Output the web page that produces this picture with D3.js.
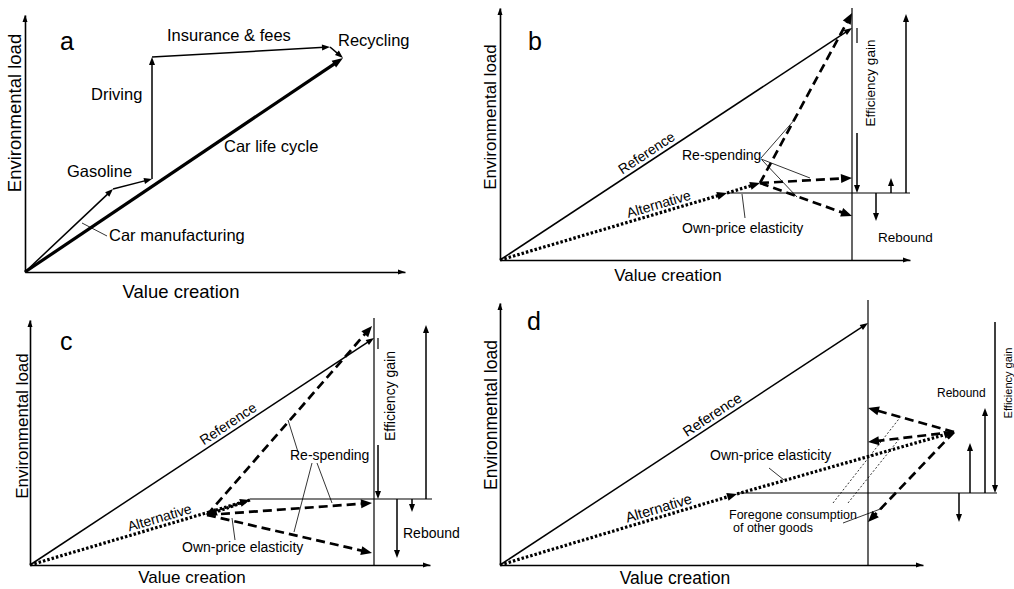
<!DOCTYPE html>
<html>
<head>
<meta charset="utf-8">
<script src="https://cdn.jsdelivr.net/npm/d3@7"></script>
<style>
body { margin: 0; background: #fff; }
svg { display: block; font-family: "Liberation Sans", Arial, sans-serif; }
</style>
</head>
<body>
<svg id="chart" width="1014" height="589"></svg>
<script>
// values are read off the picture, in units of the panel's own axes
// panel a: car life cycle, stage by stage
var aStages = ["Car manufacturing", "Gasoline", "Driving", "Insurance & fees", "Recycling"];
var aStagePoints = [[0, 0], [88, 83], [127, 93], [127, 215], [305, 225], [318, 214]];
var aLifeCycle = [[0, 0], [318, 214]];

// panel b
var bReference = [[0, 0], [352, 232]];
var bAlternative = [[0, 0], [227, 67]];
var bOwnPrice = [[227, 67], [260, 77]];
var bRespending = [[[260, 77], [352, 247]], [[260, 77], [352, 82]], [[260, 77], [352, 44]]];
var bLevel = 67, bFrontier = 352;
var bMeasures = [[357, 232, 67], [376, 67, 39], [391, 67, 82], [406, 67, 246]]; // x, from, to

// panel c
var cReference = [[0, 0], [344, 227]];
var cAlternative = [[0, 0], [220, 65]];
var cOwnPrice = [[220, 65], [177, 50]];
var cRespending = [[[177, 50], [342, 239]], [[177, 50], [342, 62]], [[177, 50], [342, 12]]];
var cLevel = 66, cFrontier = 344;
var cMeasures = [[348, 227, 66], [367, 66, 7], [382, 66, 53], [396, 66, 240]];

// panel d
var dReference = [[0, 0], [368, 242]];
var dAlternative = [[0, 0], [237, 71]];
var dOwnPrice = [[237, 71], [454, 133]];
var dForegone = [[[454, 133], [368, 157]], [[454, 133], [368, 123]], [[454, 133], [368, 43]]];
var dForegoneGuides = [[[333, 62], [402, 150]], [[348, 62], [400, 127]]];
var dLevel = 72, dFrontier = 368;
var dMeasures = [[459, 72, 43], [470, 72, 122], [485, 72, 157], [495, 243, 72]];

var panels = {
  a: { ox: 25, oy: 272, w: 380, h: 257 },
  b: { ox: 500, oy: 260, w: 410, h: 252 },
  c: { ox: 30, oy: 565, w: 400, h: 245 },
  d: { ox: 500, oy: 565, w: 423, h: 262 }
};

var styles = {
  solid: { w: 1.5, dash: null, L: 8, W: 6 },
  thick: { w: 3.2, dash: null, L: 11, W: 8 },
  dotted: { w: 3.2, dash: "2.5,2", L: 10, W: 8 },
  dashed: { w: 2.7, dash: "9,5", L: 11, W: 9 },
  frame: { w: 1.2, dash: null, L: 0, W: 0 },
  leader: { w: 0.8, dash: null, L: 0, W: 0 },
  guide: { w: 0.8, dash: "2,2", L: 0, W: 0 }
};

var svg = d3.select("#chart");

function scales(p) {
  return {
    x: d3.scaleLinear().domain([0, p.w]).range([p.ox, p.ox + p.w]),
    y: d3.scaleLinear().domain([0, p.h]).range([p.oy, p.oy - p.h])
  };
}

function head(g, x0, y0, x1, y1, L, W) {
  var dx = x1 - x0, dy = y1 - y0, len = Math.sqrt(dx * dx + dy * dy);
  var ux = dx / len, uy = dy / len;
  var bx = x1 - ux * L, by = y1 - uy * L;
  g.append("path")
    .attr("d", "M" + x1 + "," + y1 + "L" + (bx - uy * W / 2) + "," + (by + ux * W / 2) +
      "L" + (bx + uy * W / 2) + "," + (by - ux * W / 2) + "Z")
    .attr("fill", "#000");
}

function arrow(g, S, p0, p1, style, noHead) {
  var s = styles[style];
  var x0 = S.x(p0[0]), y0 = S.y(p0[1]), x1 = S.x(p1[0]), y1 = S.y(p1[1]);
  var len = Math.hypot(x1 - x0, y1 - y0);
  var k = (noHead || !s.L) ? 0 : s.L * 0.7;
  g.append("line")
    .attr("x1", x0).attr("y1", y0)
    .attr("x2", x1 - (x1 - x0) / len * k).attr("y2", y1 - (y1 - y0) / len * k)
    .attr("stroke", "#000").attr("stroke-width", s.w)
    .attr("stroke-dasharray", s.dash);
  if (!noHead && s.L) head(g, x0, y0, x1, y1, s.L, s.W);
}

function text(g, S, txt, pos, size, opts) {
  opts = opts || {};
  var t = g.append("text")
    .attr("x", S.x(pos[0])).attr("y", S.y(pos[1]))
    .attr("font-size", size)
    .attr("text-anchor", opts.anchor || "start")
    .text(txt);
  if (opts.rotate) t.attr("transform", "rotate(" + opts.rotate + "," + S.x(pos[0]) + "," + S.y(pos[1]) + ")");
  return t;
}

// label sitting along a line, t = fraction along it
function lineLabel(g, S, seg, t, txt, size) {
  var x0 = S.x(seg[0][0]), y0 = S.y(seg[0][1]), x1 = S.x(seg[1][0]), y1 = S.y(seg[1][1]);
  var ang = Math.atan2(y1 - y0, x1 - x0);
  var px = x0 + (x1 - x0) * t + Math.sin(ang) * 4, py = y0 + (y1 - y0) * t - Math.cos(ang) * 4;
  g.append("text").attr("x", px).attr("y", py)
    .attr("font-size", size).attr("text-anchor", "middle")
    .attr("transform", "rotate(" + (ang * 180 / Math.PI) + "," + px + "," + py + ")")
    .text(txt);
}

function axes(g, S, p, titles) {
  g.append("g").attr("transform", "translate(0," + p.oy + ")")
    .call(d3.axisBottom(S.x).tickValues([]).tickSizeOuter(0))
    .select(".domain").attr("stroke-width", 1.6);
  g.append("g").attr("transform", "translate(" + p.ox + ",0)")
    .call(d3.axisLeft(S.y).tickValues([]).tickSizeOuter(0))
    .select(".domain").attr("stroke-width", 1.6);
  head(g, p.ox, p.oy, p.ox + p.w, p.oy, 7, 5);
  head(g, p.ox, p.oy, p.ox, p.oy - p.h, 7, 5);
  g.append("text").attr("x", titles.vx).attr("y", titles.vy)
    .attr("font-size", titles.size).attr("text-anchor", "middle")
    .text("Value creation");
  g.append("text").attr("font-size", titles.size).attr("text-anchor", "middle")
    .attr("transform", "translate(" + titles.ex + "," + titles.ey + ") rotate(-90)")
    .text("Environmental load");
}

function measures(g, S, list, gap) {
  list.forEach(function (m, i) {
    if (i === 0 && gap) {
      // line is broken behind the "Efficiency gain" label
      arrow(g, S, [m[0], m[1]], [m[0], gap[0]], "frame", true);
      arrow(g, S, [m[0], gap[1]], [m[0], m[2]], "solid");
    } else {
      arrow(g, S, [m[0], m[1]], [m[0], m[2]], "solid");
    }
  });
}

// ---------- panel a ----------
(function () {
  var p = panels.a, S = scales(p), g = svg.append("g");
  axes(g, S, p, { vx: 181, vy: 298, ex: 21, ey: 113, size: 18.5 });
  arrow(g, S, aLifeCycle[0], aLifeCycle[1], "thick");
  for (var i = 0; i < aStages.length; i++) {
    arrow(g, S, aStagePoints[i], aStagePoints[i + 1], "solid");
  }
  text(g, S, "a", [35, 222], 25);
  text(g, S, "Insurance & fees", [142, 231], 16.5);
  text(g, S, "Recycling", [313, 226], 16.5);
  text(g, S, "Driving", [66, 172], 16.5);
  text(g, S, "Gasoline", [42, 95], 16.5);
  text(g, S, "Car life cycle", [199, 120], 16.5);
  text(g, S, "Car manufacturing", [84, 31], 16.5);
  arrow(g, S, [57, 49], [82, 36], "leader");
})();

// ---------- panel b ----------
(function () {
  var p = panels.b, S = scales(p), g = svg.append("g");
  axes(g, S, p, { vx: 668, vy: 281, ex: 496, ey: 117, size: 17 });
  arrow(g, S, [bFrontier, 0], [bFrontier, p.h], "frame");
  arrow(g, S, [bAlternative[1][0], bLevel], [p.w, bLevel], "frame");
  arrow(g, S, bReference[0], bReference[1], "solid");
  arrow(g, S, bAlternative[0], bAlternative[1], "dotted");
  arrow(g, S, bOwnPrice[0], bOwnPrice[1], "dotted");
  bRespending.forEach(function (s) { arrow(g, S, s[0], s[1], "dashed"); });
  measures(g, S, bMeasures, [217, 127]);
  text(g, S, "b", [28, 210], 25);
  lineLabel(g, S, bReference, 0.43, "Reference", 14);
  lineLabel(g, S, bAlternative, 0.71, "Alternative", 14);
  text(g, S, "Re-spending", [182, 100], 14);
  text(g, S, "Own-price elasticity", [182, 27], 14);
  text(g, S, "Rebound", [378, 18], 13.5);
  text(g, S, "Efficiency gain", [375, 177], 13.5, { anchor: "middle", rotate: -90 });
  arrow(g, S, [261, 102], [296, 142], "leader");
  arrow(g, S, [261, 101], [310, 82], "leader");
  arrow(g, S, [262, 100], [297, 63], "leader");
  arrow(g, S, [245, 42], [242, 66], "leader");
})();

// ---------- panel c ----------
(function () {
  var p = panels.c, S = scales(p), g = svg.append("g");
  axes(g, S, p, { vx: 192, vy: 583, ex: 28, ey: 426, size: 17 });
  arrow(g, S, [cFrontier, 0], [cFrontier, 247], "frame");
  arrow(g, S, [cAlternative[1][0], cLevel], [402, cLevel], "frame");
  arrow(g, S, cReference[0], cReference[1], "solid");
  arrow(g, S, cAlternative[0], cAlternative[1], "dotted");
  arrow(g, S, cOwnPrice[0], cOwnPrice[1], "dotted");
  cRespending.forEach(function (s) { arrow(g, S, s[0], s[1], "dashed"); });
  measures(g, S, cMeasures, [216, 120]);
  text(g, S, "c", [30, 215], 25);
  lineLabel(g, S, cReference, 0.59, "Reference", 14);
  lineLabel(g, S, cAlternative, 0.6, "Alternative", 14);
  text(g, S, "Re-spending", [260, 105], 14);
  text(g, S, "Own-price elasticity", [152, 13], 14);
  text(g, S, "Rebound", [373, 27], 14);
  text(g, S, "Efficiency gain", [365, 169], 14, { anchor: "middle", rotate: -90 });
  arrow(g, S, [268, 113], [258, 145], "leader");
  arrow(g, S, [282, 102], [264, 33], "leader");
  arrow(g, S, [287, 102], [302, 62], "leader");
  arrow(g, S, [205, 25], [202, 47], "leader");
})();

// ---------- panel d ----------
(function () {
  var p = panels.d, S = scales(p), g = svg.append("g");
  axes(g, S, p, { vx: 675, vy: 584, ex: 497, ey: 415, size: 17.5 });
  arrow(g, S, [dFrontier, 0], [dFrontier, 265], "frame");
  arrow(g, S, [dAlternative[1][0], dLevel], [497, dLevel], "frame");
  arrow(g, S, dReference[0], dReference[1], "solid");
  arrow(g, S, dAlternative[0], dAlternative[1], "dotted");
  arrow(g, S, dOwnPrice[0], dOwnPrice[1], "dotted");
  dForegone.forEach(function (s) { arrow(g, S, s[0], s[1], "dashed"); });
  dForegoneGuides.forEach(function (s) { arrow(g, S, s[0], s[1], "guide", true); });
  measures(g, S, dMeasures);
  text(g, S, "d", [27, 235], 25);
  lineLabel(g, S, dReference, 0.59, "Reference", 14.5);
  lineLabel(g, S, dAlternative, 0.68, "Alternative", 14.5);
  text(g, S, "Own-price elasticity", [210, 105], 14);
  text(g, S, "Foregone consumption", [229, 46], 12.5);
  text(g, S, "of other goods", [233, 33], 12.5);
  text(g, S, "Rebound", [437, 168], 12);
  text(g, S, "Efficiency gain", [512, 182], 11, { anchor: "middle", rotate: -90 });
  arrow(g, S, [269, 97], [284, 85], "leader");
  arrow(g, S, [343, 42], [383, 57], "leader");
})();
</script>
</body>
</html>
